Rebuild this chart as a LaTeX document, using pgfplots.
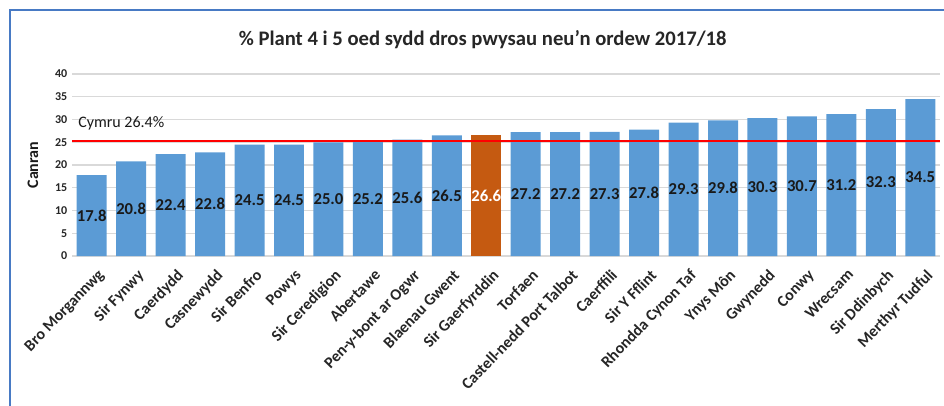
\documentclass[border=0pt]{standalone}
\usepackage{pgfplots}
\pgfplotsset{compat=1.18}
\usepackage{fontspec}
\setmainfont{Carlito}
\definecolor{barblue}{RGB}{91,155,213}
\definecolor{barorange}{RGB}{197,90,17}
\definecolor{gridgrey}{RGB}{217,217,217}
\definecolor{framecol}{RGB}{72,122,196}
\begin{document}
\begin{tikzpicture}
\path[use as bounding box] (0,0) rectangle (708pt,303.75pt);
\draw[framecol, line width=1.6pt] (7.5pt,-2pt) -- (7.5pt,296.25pt) -- (710pt,296.25pt);
\node[font=\bfseries\fontsize{15.5}{17}\selectfont, text=black!85] at (362pt,273.75pt) {\% Plant 4 i 5 oed sydd dros pwysau neu'n ordew 2017/18};
\begin{axis}[
  at={(54pt,111.75pt)}, anchor=south west,
  scale only axis, width=651pt, height=136.5pt,
  ybar, bar width=0.76, bar shift=0pt,
  xmin=-0.5, xmax=21.5, ymin=0, ymax=40,
  ytick={0,5,...,40},
  xtick={0,...,21},
  xticklabels={Bro Morgannwg,Sir Fynwy,Caerdydd,Casnewydd,Sir Benfro,Powys,Sir Ceredigion,Abertawe,Pen-y-bont ar Ogwr,Blaenau Gwent,Sir Gaerfyrddin,Torfaen,Castell-nedd Port Talbot,Caerffili,Sir Y Fflint,Rhondda Cynon Taf,Ynys Môn,Gwynedd,Conwy,Wrecsam,Sir Ddinbych,Merthyr Tudful},
  x tick label style={xshift=4pt, yshift=-9pt, rotate=46, anchor=north east, font=\bfseries\fontsize{12}{14}\selectfont, text=black!85, inner sep=0pt},
  y tick label style={font=\bfseries\fontsize{9}{11}\selectfont, text=black!85},
  /pgf/number format/assume math mode=true,
  ylabel={Canran},
  ylabel style={at={(axis description cs:-0.045,0.5)}, anchor=center, font=\bfseries\fontsize{12}{14}\selectfont, text=black!90},
  ymajorgrids, grid style={gridgrey, line width=0.8pt},
  axis line style={draw=none},
  major tick length=0pt,
  tick style={draw=none},
  point meta=y,
  visualization depends on=rawy \as \rawy,
  nodes near coords={\pgfmathprintnumber[fixed,fixed zerofill,precision=1]{\pgfplotspointmeta}},
  every node near coord/.append style={anchor=center, yshift=-\rawy*1.70625pt, font=\bfseries\fontsize{12.5}{14}\selectfont},
  clip=false,
]
\addplot[fill=barblue, draw=none, nodes near coords style={text=black!90}] coordinates {
(0,17.8) (1,20.8) (2,22.4) (3,22.8) (4,24.5) (5,24.5) (6,25.0) (7,25.2) (8,25.6) (9,26.5)
(11,27.2) (12,27.2) (13,27.3) (14,27.8) (15,29.3) (16,29.8) (17,30.3) (18,30.7) (19,31.2) (20,32.3) (21,34.5)};
\addplot[fill=barorange, draw=none, nodes near coords style={text=white}] coordinates {(10,26.6)};
\addplot[sharp plot, red, line width=1.5pt, nodes near coords=, forget plot] coordinates {(-0.5,25.2) (21.5,25.2)};
\node[anchor=west, font=\fontsize{12}{14}\selectfont, text=black!90] at (axis cs:-0.46,29.2) {Cymru 26.4\%};
\end{axis}
\end{tikzpicture}
\end{document}
